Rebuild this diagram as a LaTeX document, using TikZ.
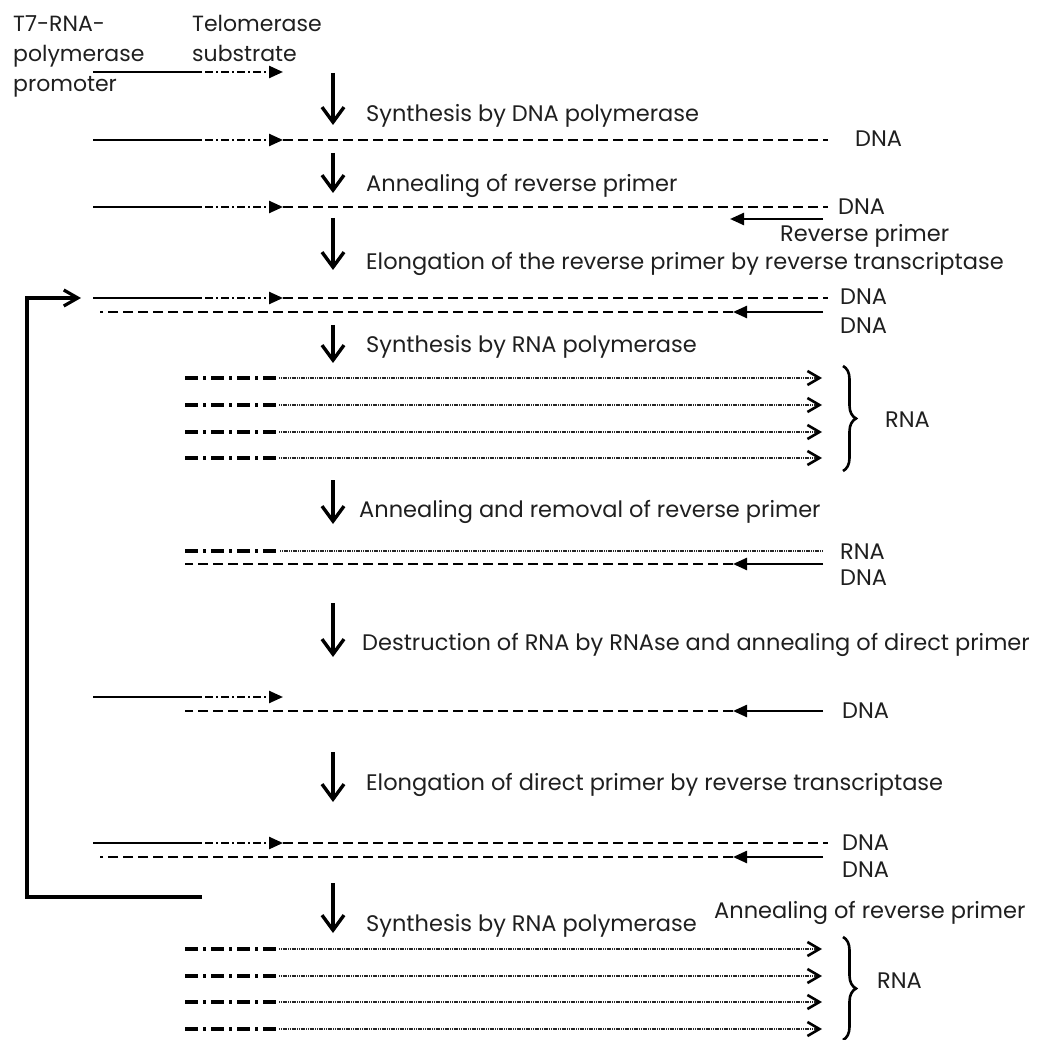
\documentclass[tikz,border=0pt]{standalone}
\usepackage{fontspec}
\setmainfont{Poppins}
\usetikzlibrary{arrows.meta,decorations.pathreplacing}
\newcommand\dnafwd[2]{%
  \coordinate (#1-a) at (93,#2);
  \coordinate (#1-b) at (200,#2);
  \coordinate (#1-c) at (283,#2);
  \coordinate (#1-d) at (828,#2);
  \draw[sol] (#1-a) -- (#1-b);
  \draw[dd,tri] (#1-b) -- (#1-c);
  \draw[dsh] (#1-c) -- (#1-d);}
\newcommand\dnarev[3]{%
  \coordinate (#1-e) at (823,#2);
  \coordinate (#1-t) at (733,#2);
  \coordinate (#1-s) at (#3,#2);
  \draw[sol,tri] (#1-e) -- (#1-t);
  \draw[dsh] (#1-t) -- (#1-s);}
\newcommand\rnastrand[2]{%
  \coordinate (#1-a) at (185,#2);
  \coordinate (#1-b) at (279,#2);
  \coordinate (#1-c) at (822,#2);
  \draw[rdd] (#1-a) -- (#1-b);
  \draw[rdot,chev] (#1-b) -- (#1-c);}
\newcommand\steparrow[3]{%
  \coordinate (#1-top) at (333,#2);
  \coordinate (#1-bot) at (333,#3);
  \draw[down] (#1-top) -- (#1-bot);}
\begin{document}
\begin{tikzpicture}[x=1pt,y=-1pt,
 lbl/.style={font=\fontsize{22.5}{30}\selectfont, anchor=base west, inner sep=0pt, text=black!88},
 sol/.style={line width=2.4pt},
 dd/.style={line width=2.4pt, dash pattern=on 2pt off 3pt on 8pt off 3pt},
 dsh/.style={line width=2.4pt, dash pattern=on 10pt off 5pt},
 rdd/.style={line width=3.6pt, dash pattern=on 13pt off 5pt on 3pt off 5pt},
 rdot/.style={line width=2.4pt, dash pattern=on 1.2pt off 0.6pt, black!85},
 tri/.style={-{Triangle[length=14pt,width=12pt]}},
 chev/.style={-{Straight Barb[length=12pt,width=14pt,line width=2.6pt,color=black]}},
 down/.style={line width=3.4pt, -{Straight Barb[length=15pt,width=22pt]}},
 loopln/.style={line width=3.2pt},
 brc/.style={decorate, decoration={brace, amplitude=13pt}, line width=2.6pt},
]
\useasboundingbox (0,0) rectangle (1044,1040);

% top labels
\node[lbl, align=left, font=\fontsize{22}{30}\selectfont] (promo) at (13,92) {T7-RNA-\\polymerase\\promoter};
\node[lbl, align=left, font=\fontsize{22}{30}\selectfont] (telo) at (192,62) {Telomerase\\substrate};

% row 0
\coordinate (r0-a) at (93,72);
\coordinate (r0-b) at (200,72);
\coordinate (r0-c) at (283,72);
\draw[sol] (r0-a) -- (r0-b);
\draw[dd,tri] (r0-b) -- (r0-c);

\steparrow{d1}{73}{125}
\node[lbl] (s1) at (366,122) {Synthesis by DNA polymerase};

% row 1
\dnafwd{r1}{140}
\node[lbl] (l1) at (855,147) {DNA};

\steparrow{d2}{153}{193}
\node[lbl] (s2) at (366,192) {Annealing of reverse primer};

% row 2
\dnafwd{r2}{207}
\node[lbl] (l2) at (838,215) {DNA};
\coordinate (rp-a) at (823,219);
\coordinate (rp-b) at (730,219);
\draw[sol,tri] (rp-a) -- (rp-b);
\node[lbl] (l2b) at (780,242) {Reverse primer};

\steparrow{d3}{218}{270}
\node[lbl] (s3) at (366,270) {Elongation of the reverse primer by reverse transcriptase};

% row 3
\dnafwd{r3}{298}
\dnarev{r3b}{312}{100}
\node[lbl] (l3a) at (840,305) {DNA};
\node[lbl] (l3b) at (840,334) {DNA};

\steparrow{d4}{325}{363}
\node[lbl] (s4) at (366,353) {Synthesis by RNA polymerase};

% RNA group 1
\rnastrand{ra1}{378}
\rnastrand{ra2}{405}
\rnastrand{ra3}{432}
\rnastrand{ra4}{458}
\coordinate (b1-t) at (843,366);
\coordinate (b1-b) at (843,471);
\draw[brc] (b1-t) -- (b1-b);
\node[lbl] (l4) at (885,427) {RNA};

\steparrow{d5}{480}{524}
\node[lbl] (s5) at (359,517) {Annealing and removal of reverse primer};

% row 5
\coordinate (r5-a) at (185,551);
\coordinate (r5-b) at (280,551);
\coordinate (r5-c) at (823,551);
\draw[rdd] (r5-a) -- (r5-b);
\draw[rdot] (r5-b) -- (r5-c);
\dnarev{r5b}{564}{185}
\node[lbl] (l5a) at (840,559) {RNA};
\node[lbl] (l5b) at (840,585) {DNA};

\steparrow{d6}{603}{657}
\node[lbl] (s6) at (362,650) {Destruction of RNA by RNAse and annealing of direct primer};

% row 6
\coordinate (r6-a) at (93,697);
\coordinate (r6-b) at (200,697);
\coordinate (r6-c) at (283,697);
\draw[sol] (r6-a) -- (r6-b);
\draw[dd,tri] (r6-b) -- (r6-c);
\dnarev{r6b}{711}{185}
\node[lbl] (l6) at (842,718) {DNA};

\steparrow{d7}{752}{802}
\node[lbl] (s7) at (366,790) {Elongation of direct primer by reverse transcriptase};

% row 7
\dnafwd{r7}{843}
\dnarev{r7b}{857}{100}
\node[lbl] (l7a) at (842,850) {DNA};
\node[lbl] (l7b) at (842,877) {DNA};

% loop
\coordinate (lp-end) at (81,298);
\coordinate (lp-c1) at (27,298);
\coordinate (lp-c2) at (27,897);
\coordinate (lp-start) at (202,897);
\draw[loopln, -{Straight Barb[length=14pt,width=16pt]}] (lp-start) -- (lp-c2) -- (lp-c1) -- (lp-end);

\steparrow{d8}{883}{933}
\node[lbl] (s8) at (366,931) {Synthesis by RNA polymerase};
\node[lbl] (s8b) at (714,918) {Annealing of reverse primer};

% RNA group 2
\rnastrand{rb1}{949}
\rnastrand{rb2}{976}
\rnastrand{rb3}{1002}
\rnastrand{rb4}{1029}
\coordinate (b2-t) at (843,937);
\coordinate (b2-b) at (843,1040);
\draw[brc] (b2-t) -- (b2-b);
\node[lbl] (l8) at (877,988) {RNA};
\end{tikzpicture}
\end{document}
